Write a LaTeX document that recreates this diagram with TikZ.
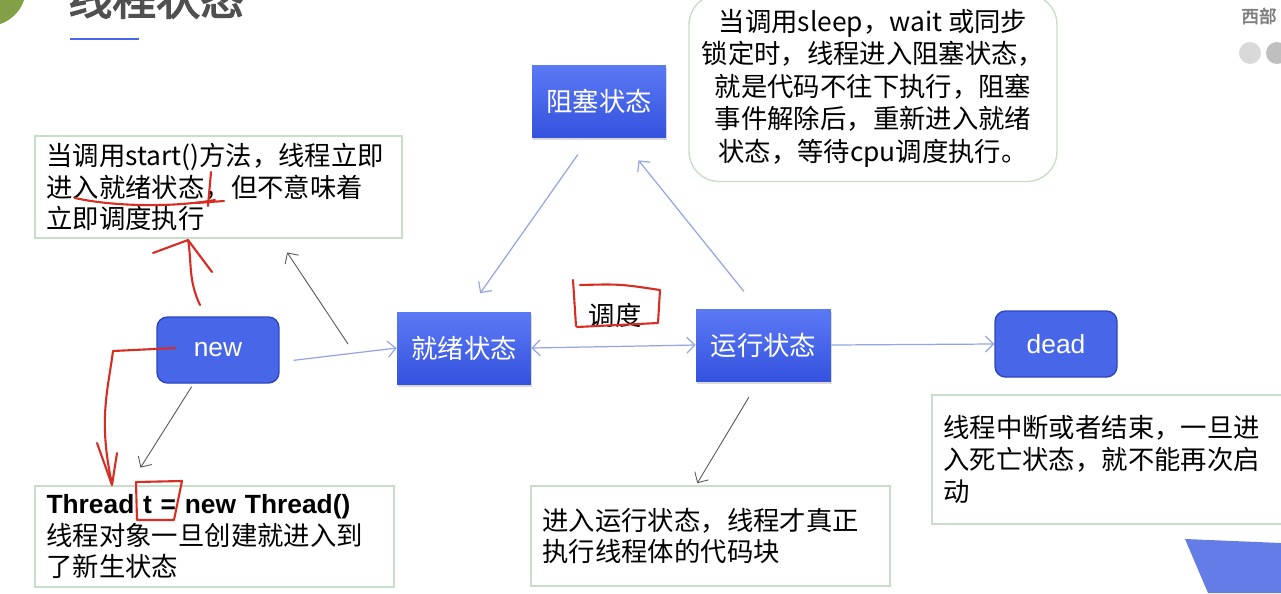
\documentclass[tikz,border=0pt]{standalone}
\usepackage{fontspec}
\setmainfont{Noto Sans CJK SC}
\newfontfamily\latfont{Liberation Sans}
\newfontfamily\titlefont{Noto Sans CJK SC}[FakeBold=3]
\usetikzlibrary{arrows.meta,shadows}
\definecolor{stateblue}{RGB}{72,102,232}
\definecolor{statetop}{RGB}{92,122,244}
\definecolor{statebot}{RGB}{52,82,222}
\definecolor{stateedge}{RGB}{45,70,190}
\definecolor{noteline}{RGB}{200,222,200}
\definecolor{flowline}{RGB}{150,165,225}
\definecolor{wireink}{RGB}{85,85,85}
\definecolor{penred}{RGB}{215,45,35}
\definecolor{slidegreen}{RGB}{130,160,70}
\definecolor{titlegray}{RGB}{80,80,80}
\definecolor{cornerblue}{RGB}{100,125,230}
\tikzset{
  >={Straight Barb[length=1.6mm,width=3.2mm]},
  state/.style={top color=statetop,bottom color=statebot,text=white,
    minimum width=2.68cm,minimum height=1.44cm,font=\fontsize{15}{18}\selectfont,
    drop shadow={opacity=0.3,shadow xshift=0.6pt,shadow yshift=-1.6pt}},
  end state/.style={fill=stateblue,draw=stateedge,thick,text=white,rounded corners=6pt,
    minimum width=2.44cm,minimum height=1.32cm,font=\latfont\fontsize{15}{18}\selectfont},
  note/.style={draw=noteline,thick,align=left,inner xsep=0.23cm,text width=#1,
    font=\fontsize{15}{18}\selectfont},
  bubble/.style={draw=noteline,thick,rounded corners=0.6cm,align=center,
    minimum width=7.36cm,minimum height=3.74cm,font=\fontsize{15}{18.5}\selectfont},
  flow/.style={draw=flowline,line width=0.7pt},
  wire/.style={draw=wireink,line width=0.5pt},
  pen/.style={draw=penred,line width=1.2pt,line cap=round,line join=round},
}

\begin{document}
\begin{tikzpicture}[x=0.02cm,y=-0.02cm]
  \useasboundingbox (0,0) rectangle (1281,593);
  \clip (0,0) rectangle (1281,593);
  % slide decoration
  \fill[slidegreen] (-12,-12) circle (0.76cm);
  \node[anchor=base west,inner sep=0pt,text=titlegray,font=\titlefont\fontsize{25}{30}\selectfont] (title) at (68,15) {线程状态};
  \draw[stateblue,line width=1.6pt] (70,39) -- (139,39);
  \node[text=gray,font=\titlefont\fontsize{10}{12}\selectfont] (brand) at (1259,16) {西部};
  \fill[gray!30] (1250,53) circle (0.22cm);
  \fill[gray!50] (1277,53) circle (0.22cm);
  \fill[cornerblue] (1185,539) -- (1281,543) -- (1281,593) -- (1208,593) -- cycle;

  % states
  \node[state] (block) at (599,101) {阻塞状态};
  \node[end state] (new) at (218,350) {new};
  \node[state] (ready) at (464,348) {就绪状态};
  \node[state,minimum width=2.7cm] (run) at (763.5,345) {运行状态};
  \node[end state] (dead) at (1056,344) {dead};
  \node (sched) at (615,315) {\fontsize{15}{18}\selectfont 调度};

  % notes
  \node[note=6.88cm,minimum height=2.04cm] (start) at (218.5,187)
    {当调用start()方法，线程立即\\进入就绪状态，但不意味着\\立即调度执行};
  \node[bubble] (sleep) at (873,88)
    {当调用sleep，wait 或同步\\锁定时，线程进入阻塞状态，\\就是代码不往下执行，阻塞\\事件解除后，重新进入就绪\\状态，等待cpu调度执行。};
  \node[note=6.72cm,minimum height=2.02cm] (thread) at (214.5,536.5)
    {{\latfont\bfseries Thread t = new Thread()}\\线程对象一旦创建就进入到\\了新生状态};
  \node[note=6.72cm,minimum height=2cm] (runinfo) at (710.5,536)
    {进入运行状态，线程才真正\\执行线程体的代码块};
  \node[note=6.8cm,minimum height=2.58cm] (deadinfo) at (1113.5,459.5)
    {线程中断或者结束，一旦进\\入死亡状态，就不能再次启\\动};

  % transitions
  \draw[flow,->,shorten <=0.28cm] (new.-11) -- (ready.west);
  \draw[flow,<->] (ready.east) -- (run.west);
  \draw[flow,->] (run.east) -- (dead.west);
  \draw[flow,->,shorten <=0.42cm,shorten >=0.45cm] (block.256) -- (ready.85);
  \draw[flow,->,shorten <=0.44cm,shorten >=0.59cm] (run.99) -- (block.300);

  % pointers to the notes
  \coordinate (hint) at (348,344);
  \draw[wire,->,shorten >=0.33cm] (hint) -- (start.319);
  \draw[wire,->,shorten <=0.07cm,shorten >=0.42cm] (new.234) -- (thread.149);
  \draw[wire,->,shorten <=0.37cm,shorten >=0.05cm] (run.262) -- (runinfo.106);

  % hand marks
  \draw[pen] (75,198) .. controls (110,206) and (170,208) .. (215,200);
  \draw[pen] (211,172) -- (208,206);
  \draw[pen] (196,203) -- (224,201);
  \draw[pen] (200,305) .. controls (188,280) and (192,262) .. (188,240);
  \draw[pen] (153,253) -- (188,240) -- (212,272);
  \draw[pen] (175,348) -- (113,351) .. controls (108,390) and (98,420) .. (112,484);
  \draw[pen] (97,443) -- (112,485) -- (117,453);
  \draw[pen] (136,482) -- (182,481) -- (174,520) -- (137,520) -- cycle;
  \draw[pen] (573,280) -- (576,326);
  \draw[pen] (580,285) .. controls (620,284) .. (660,290) -- (658,323) -- (577,327);
\end{tikzpicture}
\end{document}
